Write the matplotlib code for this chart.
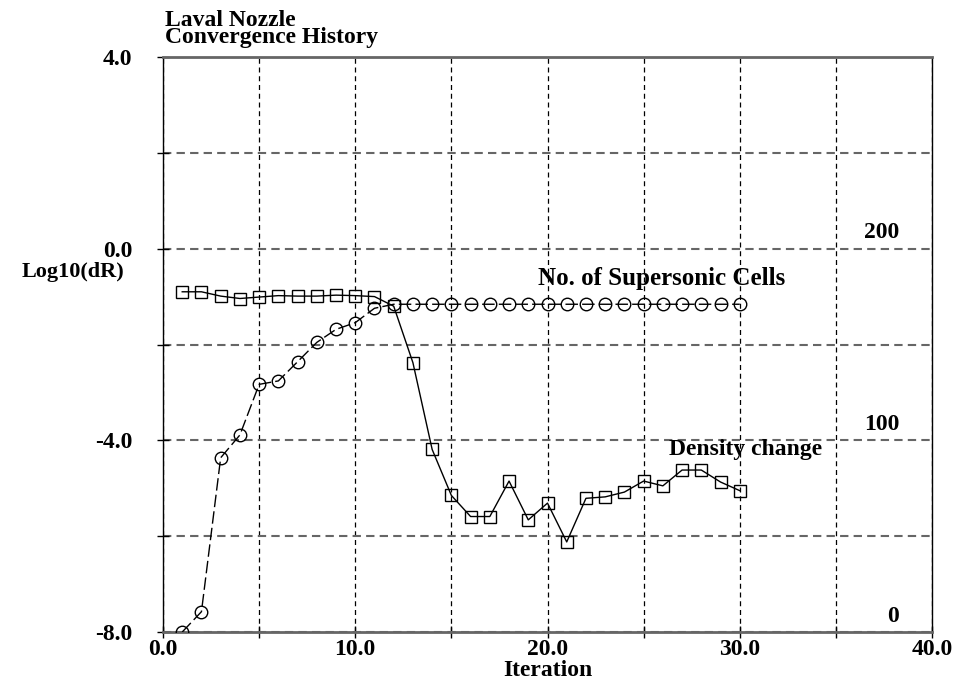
import numpy as np
import matplotlib
matplotlib.use('Agg')
import matplotlib.pyplot as plt
from matplotlib.ticker import MultipleLocator

plt.rcParams['font.family'] = ['Liberation Serif', 'DejaVu Serif']
plt.rcParams['font.weight'] = 'bold'

# convergence data
iteration = np.arange(1, 31)
density_change = [-0.90, -0.90, -0.99, -1.04, -1.01, -0.98, -0.99, -0.99, -0.97, -0.98,
                  -1.00, -1.20, -2.38, -4.19, -5.15, -5.59, -5.59, -4.85, -5.66, -5.31,
                  -6.12, -5.21, -5.18, -5.08, -4.85, -4.95, -4.62, -4.62, -4.87, -5.05]
supersonic_cells = [0, 10.6, 90.9, 102.8, 129.2, 131, 141, 151.1, 157.9, 161.4,
                    168.9, 171, 171, 171, 171, 171, 171, 171, 171, 171,
                    171, 171, 171, 171, 171, 171, 171, 171, 171, 171]
right_labels = ['200', '100', '0']
right_label_pos = [0.0, -4.0, -8.0]

W, H = 962, 686
fig = plt.figure(figsize=(W / 100, H / 100), dpi=100)
ax = fig.add_axes([163 / W, (H - 632) / H, 769 / W, 575 / H])

ax.set_xlim(0, 40)
ax.set_ylim(-8, 4)
ax.xaxis.set_major_locator(MultipleLocator(10))
ax.xaxis.set_minor_locator(MultipleLocator(5))
ax.yaxis.set_major_locator(MultipleLocator(4))
ax.yaxis.set_minor_locator(MultipleLocator(2))
ax.xaxis.set_major_formatter(lambda v, p: '%.1f' % v)
ax.yaxis.set_major_formatter(lambda v, p: '%.1f' % v)
ax.tick_params(axis='both', which='both', direction='inout', length=8, width=1, labelsize=17)
ax.tick_params(axis='y', pad=18)
ax.tick_params(axis='x', pad=1)

ax.grid(True, axis='y', which='both', color='#666666', linestyle=(0, (4, 2.5)), linewidth=1.5)
ax.grid(True, axis='x', which='both', color='black', linestyle=(0, (4, 3)), linewidth=0.9)

for side in ['top', 'bottom']:
    ax.spines[side].set_color('#666666')
    ax.spines[side].set_linewidth(2)
for side in ['left', 'right']:
    ax.spines[side].set_color('black')
    ax.spines[side].set_linewidth(1)

ax.plot(iteration, density_change, color='black', lw=1, marker='s', ms=9,
        mfc='none', mec='black', mew=1, zorder=4)

ax2 = ax.twinx()
ax2.set_ylim(0, 300)
ax2.set_yticks([])
for s in ax2.spines.values():
    s.set_visible(False)
ax2.plot(iteration, supersonic_cells, color='black', lw=1, dashes=(9, 3), marker='o', ms=9,
         mfc='none', mec='black', mew=1, zorder=4)

for lab, yv in zip(right_labels, right_label_pos):
    ax.text(38.3, yv + 0.33, lab, ha='right', va='center', fontsize=17, fontweight='bold')

ax.text(19.5, -0.62, 'No. of Supersonic Cells', fontsize=18, fontweight='bold', va='center')
ax.text(26.3, -4.2, 'Density change', fontsize=17, fontweight='bold', va='center')

fig.text(22 / W, 1 - 272 / H, 'Log10(dR)', fontsize=16, fontweight='bold', va='center', ha='left')
fig.text(548 / W, 1 - 670 / H, 'Iteration', fontsize=17, fontweight='bold', va='center', ha='center')
fig.text(165 / W, 1 - 10 / H, 'Laval Nozzle\nConvergence History', fontsize=17, fontweight='bold',
         va='top', ha='left', linespacing=0.75)

fig.savefig('out.png', dpi=100)
